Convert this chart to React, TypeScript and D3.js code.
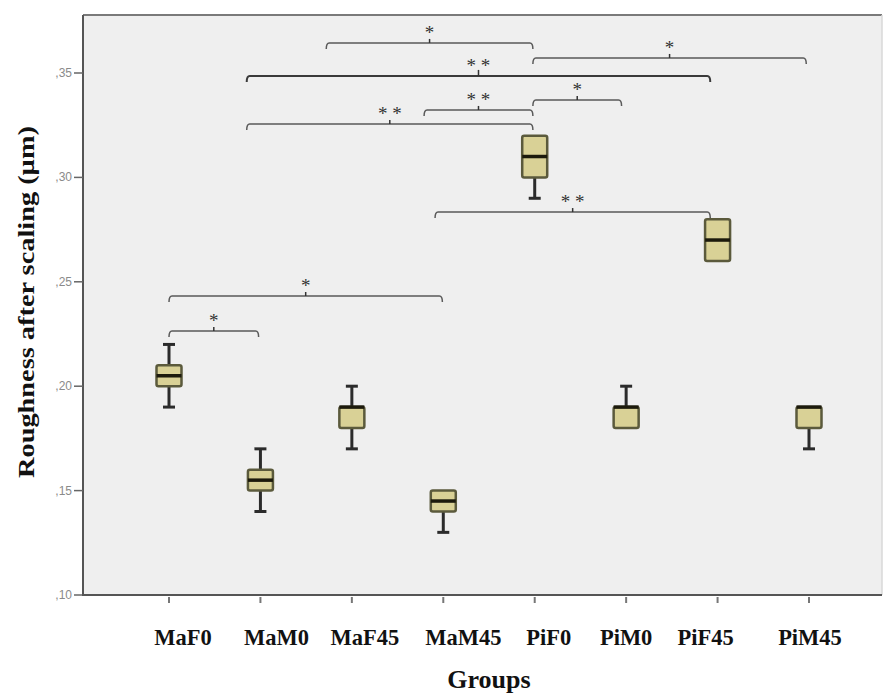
import React, { useEffect, useRef } from "react";
import * as d3 from "d3";

// group names and box-plot summaries
const groups = ["MaF0", "MaM0", "MaF45", "MaM45", "PiF0", "PiM0", "PiF45", "PiM45"];
const whiskerLow = [0.19, 0.14, 0.17, 0.13, 0.29, 0.18, 0.26, 0.17];
const q1 = [0.2, 0.15, 0.18, 0.14, 0.3, 0.18, 0.26, 0.18];
const medians = [0.205, 0.155, 0.19, 0.145, 0.31, 0.19, 0.27, 0.19];
const q3 = [0.21, 0.16, 0.19, 0.15, 0.32, 0.19, 0.28, 0.19];
const whiskerHigh = [0.22, 0.17, 0.2, 0.15, 0.32, 0.2, 0.28, 0.19];

const yTicks = [0.1, 0.15, 0.2, 0.25, 0.3, 0.35];

// significance brackets: ends in group-index units, level in µm
const bracketFrom = [1.72, 3.98, 0.85, 3.98, 2.79, 0.85, 2.91, 0, 0];
const bracketTo = [3.98, 6.97, 5.92, 4.95, 3.98, 3.98, 5.92, 2.99, 0.98];
const bracketLevel = [0.3644, 0.3572, 0.3486, 0.3371, 0.3323, 0.3256, 0.2834, 0.2432, 0.2264];
const bracketLabel = ["*", "*", "**", "*", "**", "**", "**", "*", "*"];

const W = 884;
const H = 697;

const App = () => {
	const svgRef = useRef<SVGSVGElement>(null);

	useEffect(() => {
		const svg = d3.select(svgRef.current);
		svg.selectAll("*").remove();

		const plot = { left: 83, right: 882, top: 15, bottom: 595 };
		const serif = "'Liberation Serif', 'Times New Roman', serif";

		const x = d3.scalePoint<string>().domain(groups).range([169, 809]);
		const xi = d3.scaleLinear().domain([0, groups.length - 1]).range([169, 809]);
		const y = d3.scaleLinear().domain([0.1, 0.35]).range([595, 73]);

		svg.append("rect").attr("width", W).attr("height", H).attr("fill", "#ffffff");

		// plot background + frame
		svg.append("rect")
			.attr("x", plot.left)
			.attr("y", plot.top)
			.attr("width", plot.right - plot.left)
			.attr("height", plot.bottom - plot.top)
			.attr("fill", "#efefef");
		svg.append("line")
			.attr("x1", plot.left).attr("x2", plot.right)
			.attr("y1", plot.top).attr("y2", plot.top)
			.attr("stroke", "#7a7a7a").attr("stroke-width", 2);
		svg.append("line")
			.attr("x1", plot.right).attr("x2", plot.right)
			.attr("y1", plot.top).attr("y2", plot.bottom)
			.attr("stroke", "#d8d8d8").attr("stroke-width", 1.5);

		// y axis
		const yAxis = svg.append("g");
		yAxis.append("line")
			.attr("x1", plot.left).attr("x2", plot.left)
			.attr("y1", plot.top).attr("y2", plot.bottom + 1)
			.attr("stroke", "#555").attr("stroke-width", 2);
		yTicks.forEach((t) => {
			yAxis.append("line")
				.attr("x1", plot.left - 9).attr("x2", plot.left)
				.attr("y1", y(t)).attr("y2", y(t))
				.attr("stroke", "#666").attr("stroke-width", 1.5);
			yAxis.append("text")
				.attr("x", plot.left - 11)
				.attr("y", y(t) + 4)
				.attr("text-anchor", "end")
				.style("font-family", "'Liberation Sans', Arial, sans-serif")
				.style("font-size", "12px")
				.style("fill", "#8a8a8a")
				.text(d3.format(".2f")(t).replace("0.", ","));
		});

		// x axis
		const labelNudge = [14, 16, 13, 20, 14, 0, -12, 1];
		const xAxis = svg.append("g");
		xAxis.append("line")
			.attr("x1", plot.left - 1).attr("x2", plot.right)
			.attr("y1", plot.bottom).attr("y2", plot.bottom)
			.attr("stroke", "#555").attr("stroke-width", 2);
		groups.forEach((g, i) => {
			xAxis.append("line")
				.attr("x1", x(g)!).attr("x2", x(g)!)
				.attr("y1", plot.bottom + 2).attr("y2", plot.bottom + 8)
				.attr("stroke", "#777").attr("stroke-width", 2);
			xAxis.append("text")
				.attr("x", x(g)! + labelNudge[i])
				.attr("y", 645)
				.attr("text-anchor", "middle")
				.style("font-family", serif)
				.style("font-weight", "bold")
				.style("font-size", "22.5px")
				.style("fill", "#111")
				.text(g);
		});

		// axis titles
		svg.append("text")
			.attr("x", 489)
			.attr("y", 688)
			.attr("text-anchor", "middle")
			.style("font-family", serif)
			.style("font-weight", "bold")
			.style("font-size", "26px")
			.style("fill", "#111")
			.text("Groups");
		svg.append("text")
			.attr("transform", "translate(34,302) rotate(-90)")
			.attr("text-anchor", "middle")
			.attr("textLength", 352)
			.attr("lengthAdjust", "spacingAndGlyphs")
			.style("font-family", serif)
			.style("font-weight", "bold")
			.style("font-size", "24px")
			.style("fill", "#111")
			.text("Roughness after scaling (µm)");

		// boxes
		const boxW = 25;
		const capW = 12;
		const boxes = svg.append("g");
		groups.forEach((g, i) => {
			const cx = x(g)!;
			const wk = boxes.append("g").attr("stroke", "#2b2b2b").attr("stroke-width", 3);
			if (whiskerHigh[i] > q3[i]) {
				wk.append("line").attr("x1", cx).attr("x2", cx).attr("y1", y(q3[i])).attr("y2", y(whiskerHigh[i]));
				wk.append("line").attr("x1", cx - capW / 2).attr("x2", cx + capW / 2)
					.attr("y1", y(whiskerHigh[i])).attr("y2", y(whiskerHigh[i]));
			}
			if (whiskerLow[i] < q1[i]) {
				wk.append("line").attr("x1", cx).attr("x2", cx).attr("y1", y(q1[i])).attr("y2", y(whiskerLow[i]));
				wk.append("line").attr("x1", cx - capW / 2).attr("x2", cx + capW / 2)
					.attr("y1", y(whiskerLow[i])).attr("y2", y(whiskerLow[i]));
			}
			boxes.append("rect")
				.attr("x", cx - boxW / 2)
				.attr("y", y(q3[i]))
				.attr("width", boxW)
				.attr("height", y(q1[i]) - y(q3[i]))
				.attr("rx", 2)
				.attr("fill", "#d9d196")
				.attr("stroke", "#5b5a3c")
				.attr("stroke-width", 2.5);
			boxes.append("line")
				.attr("x1", cx - boxW / 2).attr("x2", cx + boxW / 2)
				.attr("y1", y(medians[i])).attr("y2", y(medians[i]))
				.attr("stroke", "#1c1a0c").attr("stroke-width", 3.5);
		});

		// significance brackets
		const br = svg.append("g");
		bracketLevel.forEach((lv, i) => {
			const x1 = xi(bracketFrom[i]);
			const x2 = xi(bracketTo[i]);
			const yy = y(lv);
			const mid = (x1 + x2) / 2;
			const heavy = i === 2;
			br.append("path")
				.attr("d", `M${x1},${yy + 6} Q${x1},${yy} ${x1 + 3},${yy} L${x2 - 3},${yy} Q${x2},${yy} ${x2},${yy + 6}`)
				.attr("fill", "none")
				.attr("stroke", heavy ? "#3a3a3a" : "#5a5a5a")
				.attr("stroke-width", heavy ? 2 : 1.5);
			br.append("line")
				.attr("x1", mid).attr("x2", mid)
				.attr("y1", yy).attr("y2", yy - (heavy ? 6 : 4))
				.attr("stroke", "#333").attr("stroke-width", 1.5);
			br.append("text")
				.attr("x", mid)
				.attr("y", yy - 4)
				.attr("text-anchor", "middle")
				.style("font-family", serif)
				.style("font-size", "19px")
				.style("fill", "#333")
				.text(bracketLabel[i].split("").join(" "));
		});
	}, []);

	return (
		<div style={{ position: "absolute", left: 0, top: 0, width: W, height: H }}>
			<svg ref={svgRef} width={W} height={H} style={{ display: "block" }}></svg>
		</div>
	);
};

export default App;
